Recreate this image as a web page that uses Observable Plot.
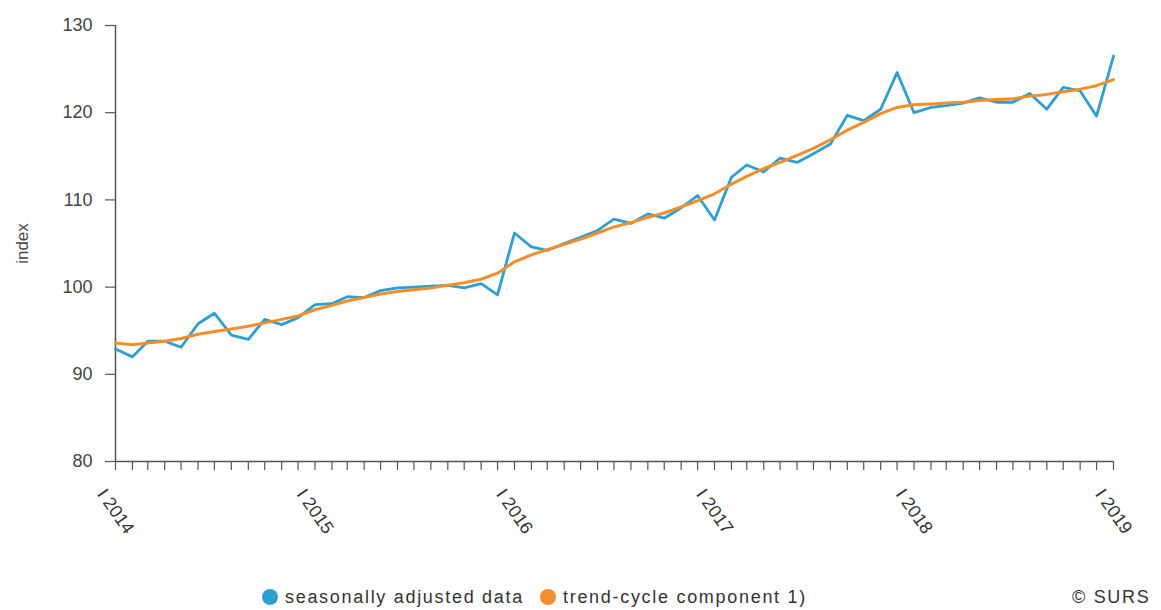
<!DOCTYPE html>
<html>
<head>
<meta charset="utf-8">
<script src="https://cdn.jsdelivr.net/npm/d3@7"></script>
<script src="https://cdn.jsdelivr.net/npm/@observablehq/plot@0.6"></script>
<style>
  html, body { margin: 0; padding: 0; background: #fff; }
  body { position: relative; width: 1161px; height: 610px; overflow: hidden; font-family: "Liberation Sans", Arial, sans-serif; }
  #chart { position: absolute; left: 0; top: 0; }
  .legend { position: absolute; top: 585px; left: 0; width: 1161px; height: 24px; font-size: 18px; letter-spacing: 1.7px; color: #333; }
  .legend .item { position: absolute; top: 0; display: flex; align-items: center; height: 24px; }
  .legend .dot { width: 16px; height: 16px; border-radius: 50%; display: inline-block; margin-right: 7px; }
</style>
</head>
<body>
<div id="chart"></div>
<div class="legend">
  <div class="item" style="left:262px"><span class="dot" style="background:#2e9fd2"></span><span>seasonally adjusted data</span></div>
  <div class="item" style="left:540px"><span class="dot" style="background:#f28e2b"></span><span>trend-cycle component 1)</span></div>
  <div class="item" style="left:1072px"><span>© SURS</span></div>
</div>
<script>
// Monthly observations, January 2014 – January 2019
const startMonth = new Date(Date.UTC(2014, 0, 1));
const endMonth = new Date(Date.UTC(2019, 0, 1));

const seasonallyAdjusted = [
  92.9, 92.0, 93.8, 93.8, 93.1, 95.8, 97.0, 94.5, 94.0, 96.3, 95.7, 96.5,
  98.0, 98.1, 98.9, 98.8, 99.6, 99.9, 100.0, 100.1, 100.2, 99.9, 100.4, 99.1,
  106.2, 104.6, 104.2, 105.0, 105.7, 106.5, 107.8, 107.3, 108.4, 107.9, 109.1, 110.5,
  107.7, 112.6, 114.0, 113.2, 114.8, 114.3, 115.3, 116.4, 119.7, 119.1, 120.4, 124.6,
  120.0, 120.6, 120.8, 121.1, 121.7, 121.2, 121.2, 122.2, 120.4, 122.9, 122.5, 119.6,
  126.5
];

const trendCycle = [
  93.6, 93.4, 93.6, 93.8, 94.1, 94.6, 94.9, 95.2, 95.5, 95.9, 96.3, 96.7,
  97.4, 97.9, 98.4, 98.8, 99.2, 99.5, 99.7, 99.9, 100.2, 100.5, 100.9, 101.6,
  102.9, 103.7, 104.3, 104.9, 105.5, 106.2, 106.9, 107.4, 108.0, 108.5, 109.2, 109.9,
  110.7, 111.8, 112.7, 113.6, 114.3, 115.1, 115.9, 116.9, 118.0, 118.9, 119.9, 120.6,
  120.9, 121.0, 121.1, 121.2, 121.4, 121.5, 121.6, 121.9, 122.1, 122.4, 122.7, 123.1,
  123.8
];

const yearLabels = ["I 2014", "I 2015", "I 2016", "I 2017", "I 2018", "I 2019"];
const yTicks = [80, 90, 100, 110, 120, 130];

const months = d3.utcMonth.range(startMonth, d3.utcMonth.offset(endMonth, 1));
const data = months.map((date, i) => ({date, sa: seasonallyAdjusted[i], tc: trendCycle[i]}));
const yearTicks = yearLabels.map((label, i) => ({label, date: new Date(Date.UTC(2014 + i, 0, 1))}));

const chart = Plot.plot({
  width: 1161,
  height: 578,
  marginTop: 25,
  marginLeft: 115,
  marginRight: 48,
  marginBottom: 117,
  style: {fontFamily: "'Liberation Sans', Arial, sans-serif", fontSize: "18px", color: "#555", background: "#fff"},
  x: {type: "utc", domain: [startMonth, endMonth]},
  y: {domain: [80, 130]},
  marks: [
    Plot.axisY({ticks: yTicks, tickSize: 10, tickPadding: 13, label: null, fontSize: 18, stroke: "#555", strokeWidth: 1.2, fill: "#444"}),
    Plot.axisX({ticks: months, tickSize: 9, tickFormat: () => "", label: null, stroke: "#555", strokeWidth: 1.2}),
    Plot.ruleX([startMonth], {stroke: "#555", strokeWidth: 1.5}),
    Plot.ruleY([80], {stroke: "#555", strokeWidth: 1.5}),
    Plot.line(data, {x: "date", y: "sa", stroke: "#2e9fd2", strokeWidth: 2.8, curve: "linear"}),
    Plot.line(data, {x: "date", y: "tc", stroke: "#f28e2b", strokeWidth: 3, curve: "linear"}),
    Plot.text(yearTicks, {x: "date", y: () => 80, text: "label", rotate: 55, dy: 50, textAnchor: "middle", lineAnchor: "middle", fontSize: 18, fill: "#333", style: "letter-spacing:2px"}),
    Plot.text(["index"], {frameAnchor: "left", dx: -93, rotate: -90, text: d => d, textAnchor: "middle", fontSize: 17, fill: "#444"})
  ]
});
document.getElementById("chart").appendChild(chart);
</script>
</body>
</html>
